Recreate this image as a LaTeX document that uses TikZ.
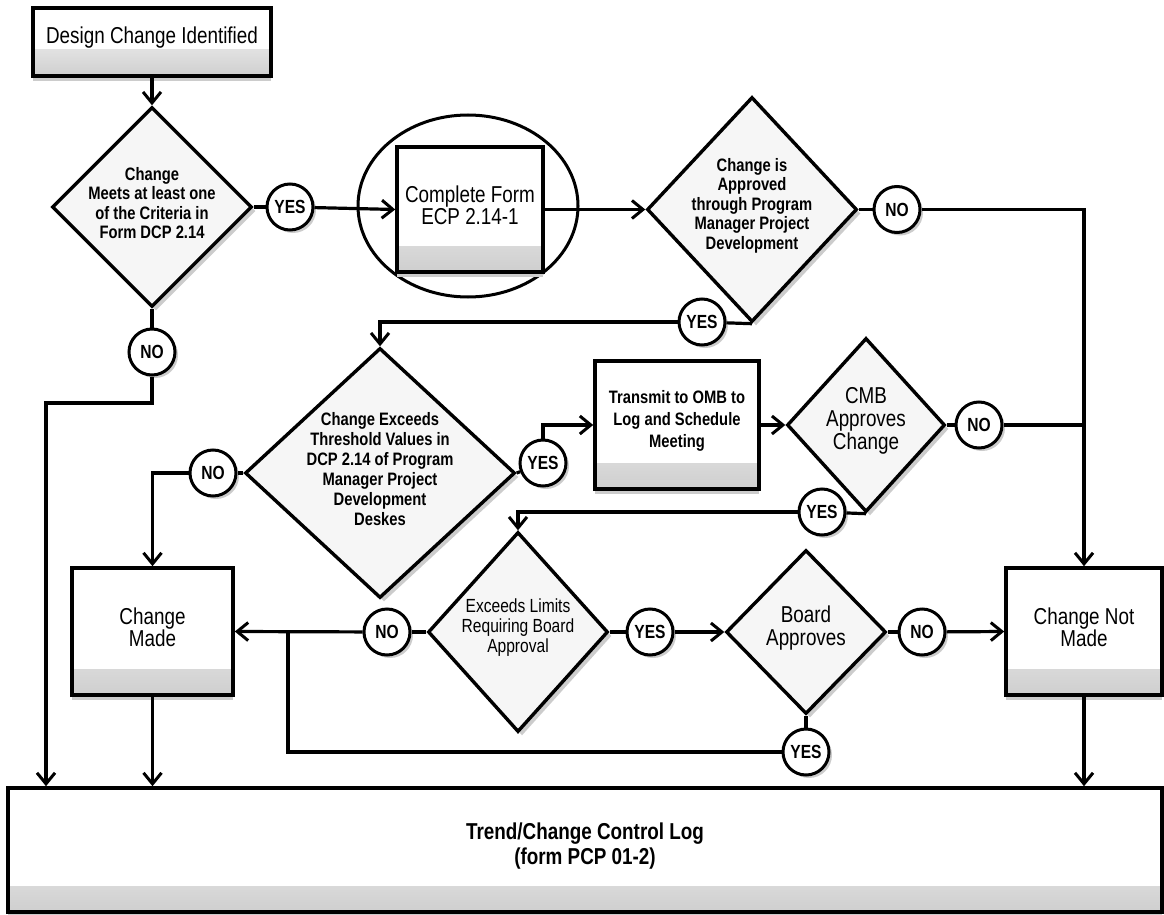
\documentclass[tikz,border=0pt]{standalone}
\usepackage{fontspec}
\usetikzlibrary{shapes.geometric,arrows.meta,shadows}
\newfontfamily\nf[FakeStretch=0.82]{Liberation Sans}
\newcommand\myfsb{\nf\bfseries\fontsize{18}{19.5}\selectfont}
\newcommand\myfbig{\nf\fontsize{23}{23}\selectfont}
\tikzset{
  conn/.style={line width=3.2pt},
  arr/.style={conn,-{Straight Barb[length=11pt,width=18pt,line width=3pt]}},
  boxshade/.style={path picture={\shade[top color=white,bottom color=gray!38]
      ([yshift=26pt]path picture bounding box.south west) rectangle (path picture bounding box.south east);}},
  box/.style={draw,rectangle,line width=3.6pt,fill=white,inner sep=0pt,boxshade,
      drop shadow={shadow xshift=0pt,shadow yshift=-5pt,fill=gray!40,opacity=1}},
  dia/.style={draw,diamond,line width=3.4pt,fill=gray!7,inner sep=0pt,
      drop shadow={shadow xshift=4pt,shadow yshift=-4pt,fill=gray!40,opacity=1}},
  dec/.style={draw,circle,line width=3pt,fill=white,minimum size=46pt,inner sep=0pt,
      font=\nf\bfseries\fontsize{19}{19}\selectfont,
      drop shadow={shadow xshift=3pt,shadow yshift=-3pt,fill=gray!40,opacity=1}},
  txt/.style={align=center,yshift=4pt,inner sep=0pt}
}
\begin{document}
\begin{tikzpicture}[x=1pt,y=-1pt]
\useasboundingbox (0,0) rectangle (1164,915);
% ---------- shapes ----------
\node[box,minimum width=238pt,minimum height=68pt] (DCI) at (152,42) {};
\node[dia,minimum width=200pt,minimum height=200pt] (d1) at (152,207) {};
\node[dec] (NO1) at (152,352) {NO};
\node[dec] (YES1) at (290,207) {YES};
\node[draw,ellipse,line width=3pt,minimum width=220pt,minimum height=182pt] (ell) at (468,206) {};
\node[box,minimum width=146pt,minimum height=125pt] (CF) at (470,209.5) {};
\node[dia,minimum width=210pt,minimum height=225pt] (d2) at (752,209.5) {};
\node[dec] (NO2) at (897,209.5) {NO};
\node[dec] (YES2) at (702,322) {YES};
\node[dia,minimum width=270pt,minimum height=250pt] (d3) at (380,473) {};
\node[dec] (NO3) at (213,473) {NO};
\node[dec] (YES3) at (543,463) {YES};
\node[box,minimum width=164pt,minimum height=128pt] (TR) at (677,425) {};
\node[dia,minimum width=158pt,minimum height=174pt] (d4) at (866,425) {};
\node[dec] (NO4) at (979,425) {NO};
\node[dec] (YES4) at (822,512) {YES};
\node[dia,minimum width=180pt,minimum height=200pt] (d5) at (518,632) {};
\node[dec] (NO5) at (387,632) {NO};
\node[dec] (YES5) at (650,632) {YES};
\node[dia,minimum width=160pt,minimum height=164pt] (d6) at (806,632) {};
\node[dec] (NO6) at (922,632) {NO};
\node[dec] (YES6) at (806,752) {YES};
\node[box,minimum width=161pt,minimum height=127pt] (CM) at (152.5,631.5) {};
\node[box,minimum width=156pt,minimum height=127pt] (CNM) at (1084,631.5) {};
\node[box,minimum width=1154pt,minimum height=124pt] (LOG) at (585,850) {};
% ---------- texts ----------
\node[txt,font=\myfbig] (tDCI) at (DCI) {Design Change Identified};
\node[txt,font=\myfsb] (td1) at (d1) {Change\\Meets at least one\\of the Criteria in\\Form DCP 2.14};
\node[txt,font=\nf\fontsize{23}{22}\selectfont] (tCF) at (CF) {Complete Form\\ECP 2.14-1};
\node[txt,font=\myfsb] (td2) at (d2) {Change is\\Approved\\through Program\\Manager Project\\Development};
\node[txt,font=\nf\bfseries\fontsize{18}{20}\selectfont] (td3) at (d3) {Change Exceeds\\Threshold Values in\\DCP 2.14 of Program\\Manager Project\\Development\\Deskes};
\node[txt,font=\nf\bfseries\fontsize{18}{22}\selectfont] (tTR) at (TR) {Transmit to OMB to\\Log and Schedule\\Meeting};
\node[txt,font=\nf\fontsize{23}{23}\selectfont] (td4) at (d4) {CMB\\Approves\\Change};
\node[txt,font=\nf\fontsize{19}{20}\selectfont] (td5) at (d5) {Exceeds Limits\\Requiring Board\\Approval};
\node[txt,font=\nf\fontsize{23}{23}\selectfont] (td6) at (d6) {Board\\Approves};
\node[txt,font=\nf\fontsize{23}{22}\selectfont] (tCM) at (CM) {Change\\Made};
\node[txt,font=\nf\fontsize{23}{22}\selectfont] (tCNM) at (CNM) {Change Not\\Made};
\node[txt,font=\nf\bfseries\fontsize{23}{25}\selectfont] (tLOG) at (LOG) {Trend/Change Control Log\\(form PCP 01-2)};
% ---------- free points ----------
\coordinate (c1) at (46,403);
\coordinate (j1) at (288,632);
% ---------- connectors ----------
\draw[arr] (DCI.south) -- (d1.north);
\draw[conn] (d1.east) -- (YES1);
\draw[arr] (YES1) -- (CF.west);
\draw[arr] (CF.east) -- (d2.west);
\draw[conn] (d2.east) -- (NO2);
\draw[arr] (NO2) -- (NO2 -| CNM.north) -- (CNM.north);
\draw[conn] (d2.south) -- (YES2);
\draw[arr] (YES2) -| (d3.north);
\draw[conn] (d1.south) -- (NO1);
\draw[arr] (NO1.south) -- (NO1.south |- c1) -- (c1) -- (c1 |- LOG.north);
\draw[conn] (d3.west) -- (NO3);
\draw[arr] (NO3) -| (CM.north);
\draw[conn] (d3.east) -- (YES3);
\draw[arr] (YES3.north) |- (TR.west);
\draw[arr] (TR.east) -- (d4.west);
\draw[conn] (d4.east) -- (NO4);
\draw[conn] (NO4) -- (NO4 -| CNM.north);
\draw[conn] (d4.south) -- (YES4);
\draw[arr] (YES4) -| (d5.north);
\draw[conn] (d5.west) -- (NO5);
\draw[arr] (NO5) -- (CM.east);
\draw[conn] (d5.east) -- (YES5);
\draw[arr] (YES5) -- (d6.west);
\draw[conn] (d6.east) -- (NO6);
\draw[arr] (NO6) -- (CNM.west);
\draw[conn] (d6.south) -- (YES6);
\draw[conn] (YES6) -| (j1);
\draw[arr] (CM.south) -- (CM.south |- LOG.north);
\draw[arr] (CNM.south) -- (CNM.south |- LOG.north);
\end{tikzpicture}
\end{document}
